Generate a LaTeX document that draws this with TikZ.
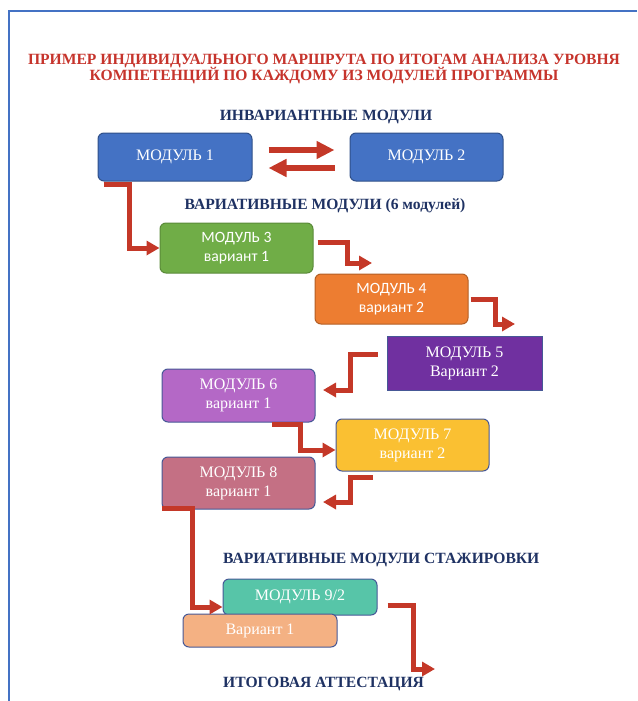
\documentclass[tikz,border=0pt]{standalone}
\usepackage{fontspec}
\setmainfont{Liberation Serif}
\newfontfamily\calibri{Carlito}
\usetikzlibrary{arrows.meta}

\begin{document}
\begin{tikzpicture}[x=1pt, y=-1pt,
    modbox/.style={draw=boxline, line width=1pt, rounded corners=6pt, text=white,
        align=center, minimum width=153pt, minimum height=50pt, inner sep=2pt,
        font=\fontsize{16}{19}\selectfont},
    heading/.style={text=navy, inner sep=0pt, anchor=base,
        font=\bfseries\fontsize{15.6}{18}\selectfont},
    route/.style={draw=arrowred, line width=5pt, -{Triangle[length=13pt,width=14pt]}},
    swap/.style={draw=arrowred, line width=6pt, -{Triangle[length=18pt,width=17pt]}}]
    % Define colors
    \definecolor{titlered}{RGB}{198, 52, 44}
    \definecolor{arrowred}{RGB}{196, 56, 40}
    \definecolor{navy}{RGB}{31, 50, 99}
    \definecolor{framecolor}{RGB}{68, 114, 196}
    \definecolor{boxline}{RGB}{70, 88, 150}
    \definecolor{bluemod}{RGB}{68, 114, 196}
    \definecolor{greenmod}{RGB}{112, 173, 71}
    \definecolor{orangemod}{RGB}{237, 125, 49}
    \definecolor{violetmod}{RGB}{112, 48, 160}
    \definecolor{lilacmod}{RGB}{180, 104, 198}
    \definecolor{yellowmod}{RGB}{250, 192, 50}
    \definecolor{rosemod}{RGB}{196, 112, 132}
    \definecolor{tealmod}{RGB}{87, 197, 168}
    \definecolor{peachmod}{RGB}{244, 177, 131}

    % Page and frame
    \useasboundingbox (0, 0) rectangle (637, 701);
    \draw[framecolor, line width=1.5pt] (637, 11) -- (9, 11) -- (9, 701);

    % Title
    \node[heading, text=titlered] (title1) at (324, 64)
        {ПРИМЕР ИНДИВИДУАЛЬНОГО МАРШРУТА ПО ИТОГАМ АНАЛИЗА УРОВНЯ};
    \node[heading, text=titlered] (title2) at (324, 81)
        {КОМПЕТЕНЦИЙ ПО КАЖДОМУ ИЗ МОДУЛЕЙ ПРОГРАММЫ};

    % Section headings
    \node[heading] (inv) at (326, 120) {ИНВАРИАНТНЫЕ МОДУЛИ};
    \node[heading] (var) at (325, 209) {ВАРИАТИВНЫЕ МОДУЛИ (6 модулей)};
    \node[heading, anchor=base west] (stage) at (223, 563) {ВАРИАТИВНЫЕ МОДУЛИ СТАЖИРОВКИ};
    \node[heading, anchor=base west] (final) at (223, 687) {ИТОГОВАЯ АТТЕСТАЦИЯ};

    % Invariant modules
    \node[modbox, fill=bluemod, draw=bluemod!70!black, minimum width=154pt, minimum height=48pt]
        (m1) at (175, 157) {МОДУЛЬ 1};
    \node[modbox, fill=bluemod, draw=bluemod!70!black, minimum height=48pt]
        (m2) at (426.5, 157) {МОДУЛЬ 2};

    % Variative modules
    \node[modbox, fill=greenmod, draw=greenmod!80!black, font=\calibri\fontsize{15.7}{19}\selectfont]
        (m3) at (236.5, 248) {МОДУЛЬ 3\\вариант 1};
    \node[modbox, fill=orangemod, draw=orangemod!75!black, font=\calibri\fontsize{15.7}{19}\selectfont]
        (m4) at (391.5, 299) {МОДУЛЬ 4\\вариант 2};
    \node[modbox, sharp corners, fill=violetmod, minimum width=155pt, minimum height=54pt]
        (m5) at (464.5, 363) {МОДУЛЬ 5\\Вариант 2};
    \node[modbox, fill=lilacmod, minimum height=53pt]
        (m6) at (238.5, 395.5) {МОДУЛЬ 6\\вариант 1};
    \node[modbox, fill=yellowmod, minimum height=52pt]
        (m7) at (412.5, 445) {МОДУЛЬ 7\\вариант 2};
    \node[modbox, fill=rosemod, minimum height=52pt]
        (m8) at (238.5, 483) {МОДУЛЬ 8\\вариант 1};

    % Internship modules
    \node[modbox, fill=tealmod, minimum width=154pt, minimum height=36pt]
        (m9) at (300, 597) {МОДУЛЬ 9/2};
    \node[modbox, fill=peachmod, minimum width=154pt, minimum height=33pt]
        (v1) at (260, 630.5) {Вариант 1};

    % Free ends of the elbow arrows
    \coordinate (m4in) at (372, 263);
    \coordinate (m5in) at (515, 324);
    \coordinate (m6in) at (323, 390);
    \coordinate (m8in) at (323, 502);
    \coordinate (finalin) at (435, 669);

    % Arrows between the invariant modules
    \draw[swap] ([xshift=16pt, yshift=7pt]m1.east) -- ([xshift=-15pt, yshift=7pt]m2.west);
    \draw[swap] ([xshift=-15pt, yshift=-11pt]m2.west) -- ([xshift=16pt, yshift=-11pt]m1.east);

    % Elbow arrows along the route
    \draw[route] ([xshift=6pt, yshift=-3pt]m1.south west) -- ++(26, 0) |- (m3.west);
    \draw[route] ([xshift=4pt, yshift=6pt]m3.east) -- ++(30, 0) |- (m4in);
    \draw[route] ([xshift=2pt]m4.east) -- ++(25, 0) |- (m5in);
    \draw[route] ([xshift=-9pt, yshift=9pt]m5.west) -- ++(-27, 0) |- (m6in);
    \draw[route] ([xshift=-44pt, yshift=-2pt]m6.south east) -- ++(29, 0) |- ([yshift=-5pt]m7.west);
    \draw[route] ([xshift=37pt, yshift=-6pt]m7.south west) -- ++(-22, 0) |- (m8in);
    \draw[route] ([yshift=1pt]m8.south west) -- ++(31, 0) |- ([yshift=-10pt]m9.west);
    \draw[route] ([xshift=10pt, yshift=-8pt]m9.east) -- ++(26, 0) |- (finalin);

\end{tikzpicture}
\end{document}
